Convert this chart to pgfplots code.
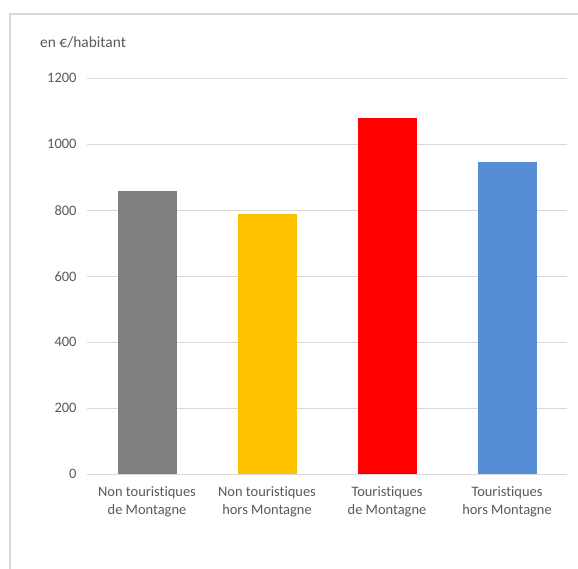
\documentclass[border=0pt]{standalone}
\usepackage{fontspec}
\setmainfont[Ligatures=NoCommon]{Carlito}
\usepackage{pgfplots}
\pgfplotsset{compat=1.18}
\definecolor{cgray}{HTML}{7F7F7F}
\definecolor{cyellow}{HTML}{FFC000}
\definecolor{cred}{HTML}{FF0000}
\definecolor{cblue}{HTML}{558ED5}
\definecolor{txt}{HTML}{595959}
\definecolor{gridc}{HTML}{D9D9D9}
\begin{document}
\begin{tikzpicture}[x=1bp,y=1bp]
\useasboundingbox (0,0) rectangle (578,569);
\draw[gridc, line width=1.2bp] (10,0) -- (10,555) -- (578,555);
\node[anchor=base west, text=txt, font=\fontsize{15.5}{18}\selectfont, inner sep=0pt] at (40,521) {en €/habitant};
\begin{axis}[
  at={(87bp,94.7bp)}, anchor=south west,
  scale only axis, width=480bp, height=396bp,
  xmin=-0.5, xmax=3.5, ymin=0, ymax=1200,
  ytick={0,200,...,1200},
  xtick={0,1,2,3},
  xticklabels={{Non touristiques\\de Montagne},{Non touristiques\\hors Montagne},{Touristiques\\de Montagne},{Touristiques\\hors Montagne}},
  xticklabel style={align=center, text=txt, font=\fontsize{14.5}{18}\selectfont, yshift=-9bp},
  yticklabel style={text=txt, font=\fontsize{14.5}{17}\selectfont, xshift=-7bp},
  /pgf/number format/assume math mode=true,
  /pgf/number format/1000 sep={},
  axis y line*=left,
  y axis line style={draw=none},
  axis x line*=bottom,
  x axis line style={gridc, line width=1bp, -},
  major tick length=0pt,
  ymajorgrids,
  grid style={gridc, line width=0.8bp},
  ybar, bar width=59bp, bar shift=0pt,
  clip=false,
]
\addplot[fill=cgray, draw=none] coordinates {(0,858)};
\addplot[fill=cyellow, draw=none] coordinates {(1,790)};
\addplot[fill=cred, draw=none] coordinates {(2,1079)};
\addplot[fill=cblue, draw=none] coordinates {(3,946)};
\end{axis}
\end{tikzpicture}
\end{document}
